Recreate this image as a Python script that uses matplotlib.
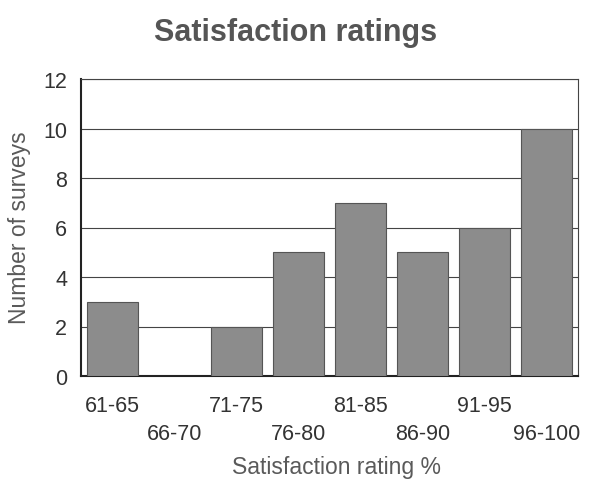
import matplotlib
matplotlib.use("Agg")
import matplotlib.pyplot as plt

categories = ["61-65", "66-70", "71-75", "76-80", "81-85", "86-90", "91-95", "96-100"]
counts = [3, 0, 2, 5, 7, 5, 6, 10]
yticks = [0, 2, 4, 6, 8, 10, 12]

plt.rcParams['font.family'] = ['Liberation Sans', 'DejaVu Sans']

fig = plt.figure(figsize=(5.99, 4.81), dpi=100)
ax = fig.add_axes([81/599, 1 - 377/481, (578-81)/599, (377-80)/481])

x = list(range(len(categories)))
ax.bar(x, counts, width=0.82, color="#8c8c8c", edgecolor="#555555", linewidth=0.8, zorder=3)
ax.set_xlim(-0.5, len(categories) - 0.5)
ax.set_ylim(0, 12)
ax.set_yticks(yticks)
ax.set_yticklabels([str(v) for v in yticks], fontsize=15.5, color="#333333")
ax.yaxis.grid(True, color="#444444", linewidth=0.8, zorder=0)
ax.set_xticks(x)
ax.set_xticklabels(categories, fontsize=15.5, color="#333333")
ax.tick_params(axis="both", length=0)
ax.tick_params(axis="y", pad=10)
for i, t in enumerate(ax.xaxis.get_major_ticks()):
    t.set_pad(13.5 if i % 2 == 0 else 34)
for s in ax.spines.values():
    s.set_color("#444444")
    s.set_linewidth(0.8)
ax.spines["left"].set_linewidth(1.5)
ax.spines["bottom"].set_linewidth(1.5)
ax.spines["left"].set_color("#222222")
ax.spines["bottom"].set_color("#222222")

fig.text(20/599, 1 - 228/481, "Number of surveys", fontsize=16.5, color="#5a5a5a",
         ha="center", va="center", rotation=90)
fig.text(337/599, 1 - 468/481, "Satisfaction rating %", fontsize=16.5, color="#5a5a5a",
         ha="center", va="center")
fig.text(296/599, 1 - 33/481, "Satisfaction ratings", fontsize=22, fontweight="bold",
         color="#555555", ha="center", va="center")

fig.savefig("out.png", dpi=100)
